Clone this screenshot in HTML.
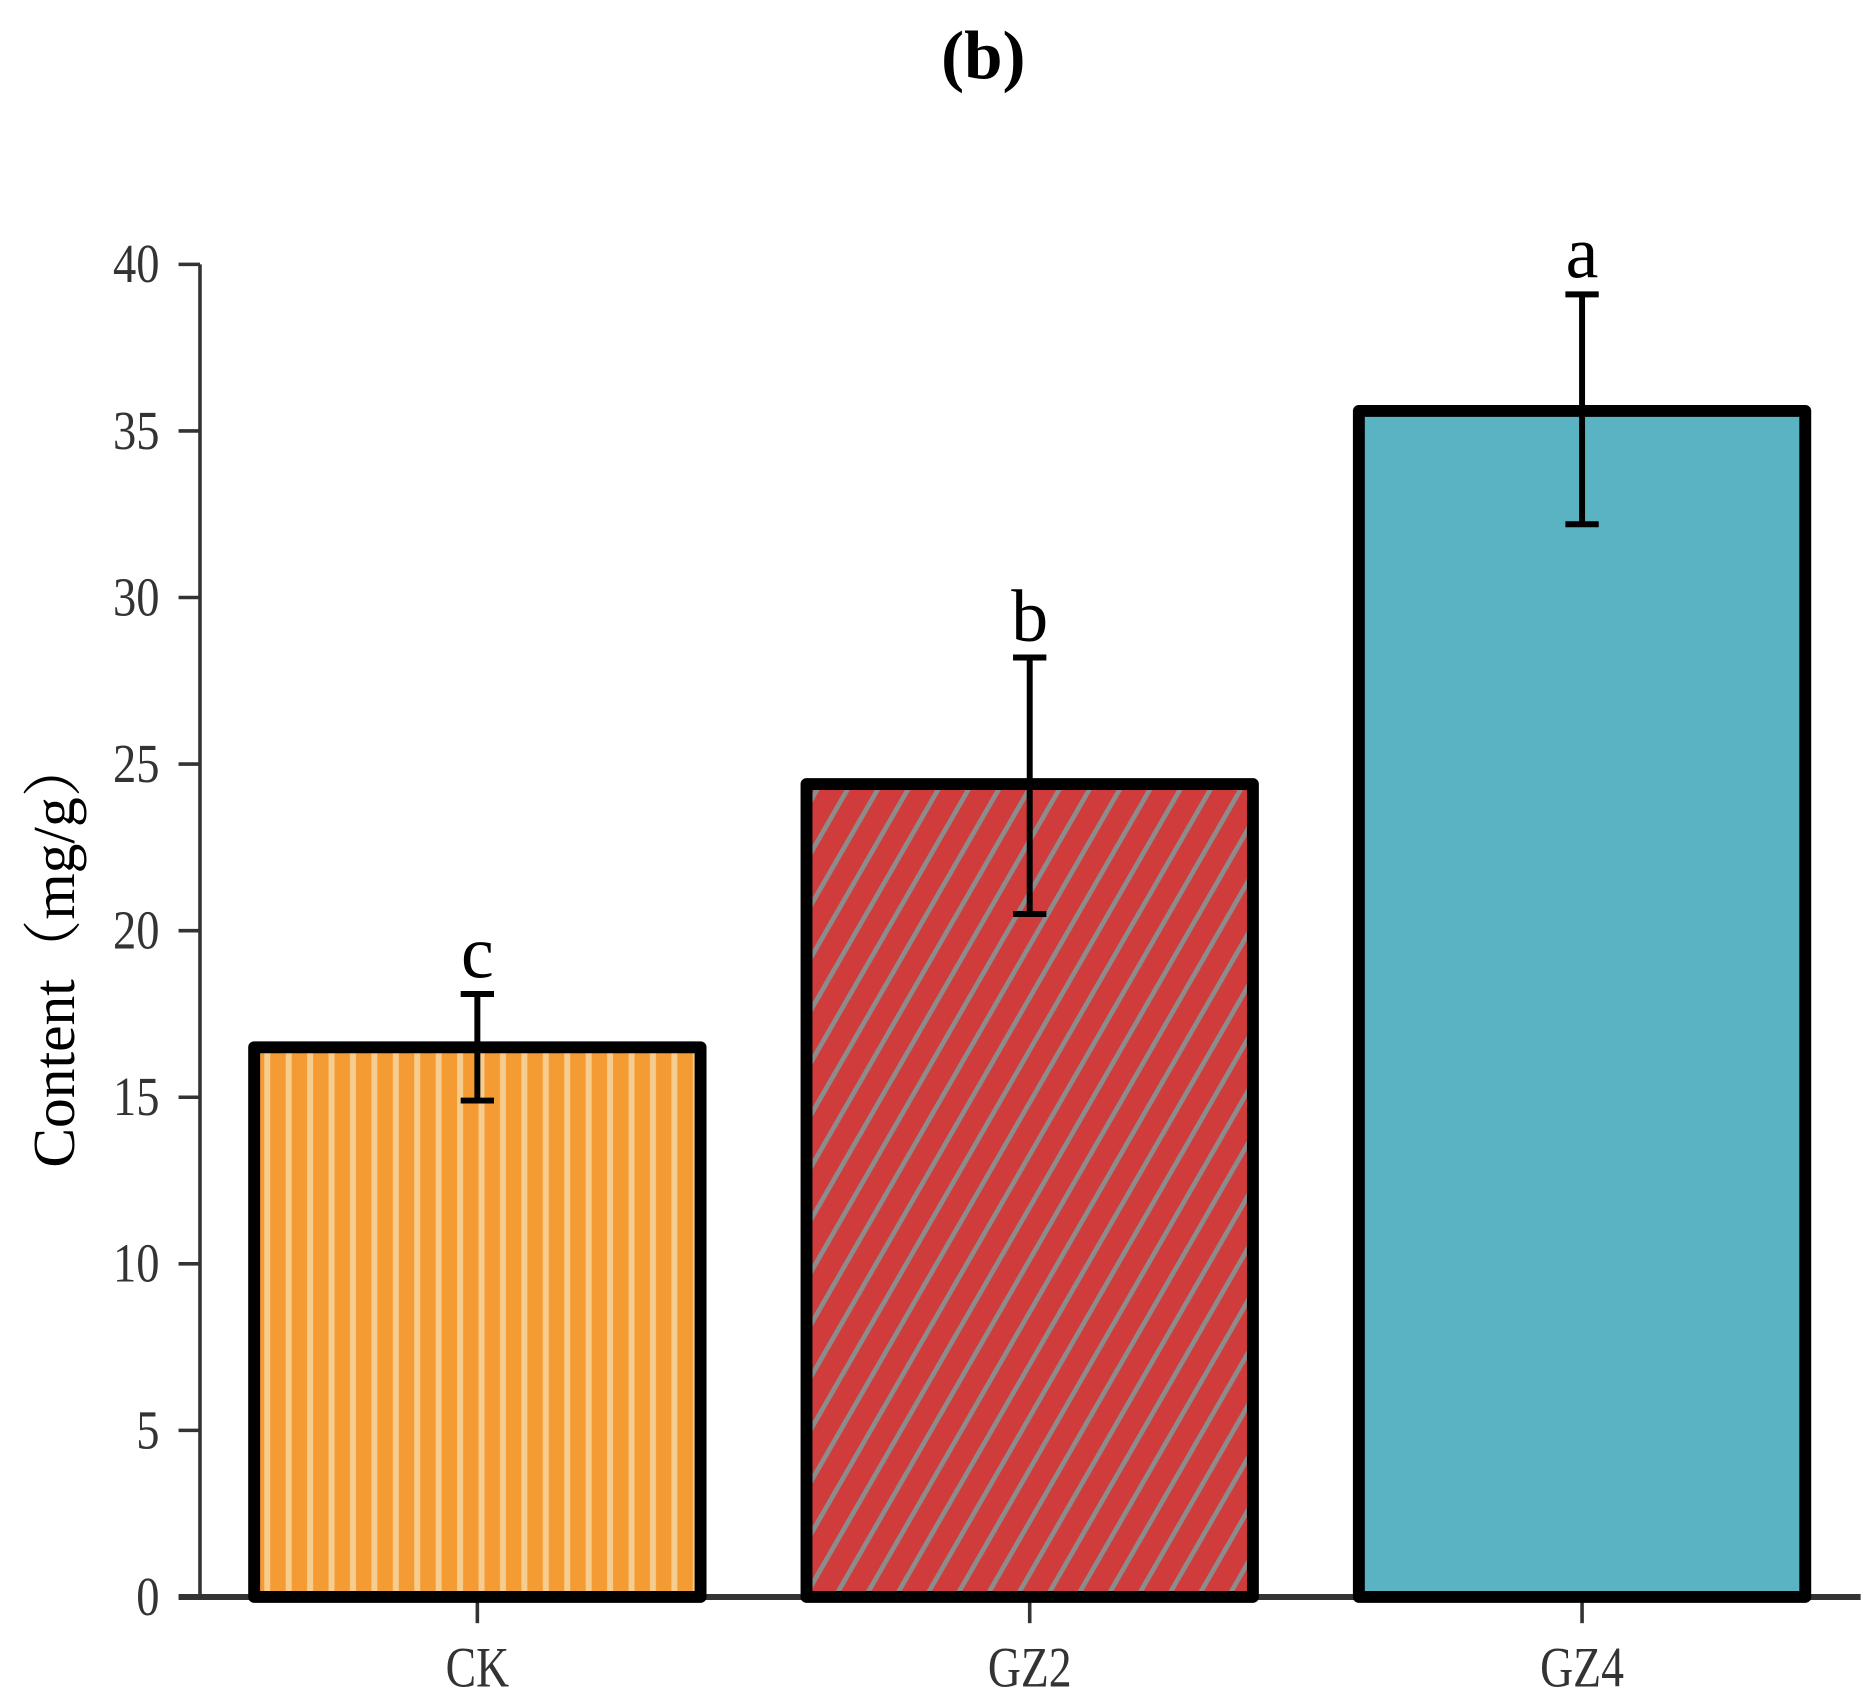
<!DOCTYPE html>
<html><head><meta charset="utf-8"><style>
html,body{margin:0;padding:0;background:#fff;}
svg{display:block;}
text{font-family:"Liberation Serif","Noto Serif CJK SC",serif;}
</style></head><body>
<svg id="chart" width="1863" height="1697" viewBox="0 0 1565 1425" preserveAspectRatio="none" xmlns="http://www.w3.org/2000/svg">
<defs>
<pattern id="pCK" patternUnits="userSpaceOnUse" width="18" height="18">
<rect width="18" height="18" fill="#f49b34"/><rect x="6" width="5" height="18" fill="#f7cd8f"/>
</pattern>
<pattern id="pGZ2" patternUnits="userSpaceOnUse" width="22" height="22" patternTransform="rotate(30)">
<rect width="22" height="22" fill="#d03b3b"/><rect x="0" width="4" height="22" fill="#8c8c8c"/>
</pattern>
</defs>
<text x="826" y="66" font-size="58" font-weight="bold" text-anchor="middle" fill="#000">(b)</text>
<g id="axes"></g>
<g id="bars"></g>
</svg>
<script>
const categories = ["CK","GZ2","GZ4"];
const values = [16.5, 24.4, 35.6];
const errLow = [14.9, 20.5, 32.2];
const errHigh = [18.1, 28.2, 39.1];
const letters = ["c","b","a"];
const yTicks = [0,5,10,15,20,25,30,35,40];
const fills = ["url(#pCK)","url(#pGZ2)","#5ab3c3"];

const NS = "http://www.w3.org/2000/svg";
const y0 = 1341, yTop = 222, yMax = 40;
function yScale(v){ return y0 - (v / yMax) * (y0 - yTop); }
const xCenters0 = 401, xStep = 464;
function xScale(i){ return xCenters0 + i * xStep; }
const barW = 375;
function mk(tag, attrs, parent){ const e = document.createElementNS(NS, tag); for (const k in attrs) e.setAttribute(k, attrs[k]); parent.appendChild(e); return e; }

const axes = document.getElementById("axes");
const bars = document.getElementById("bars");

const yAxis = mk("line",{x1:168,y1:yTop,x2:168,y2:y0,stroke:"#333","stroke-width":3},axes);


yTicks.forEach(t=>{
  const y = yScale(t);
  const tk = mk("line",{x1:150,y1:y,x2:168,y2:y,stroke:"#333","stroke-width":3},axes);
  
  
  const lb = mk("text",{x:0,y:0,"font-size":46,"text-anchor":"end",fill:"#333",transform:"translate(134,"+(y+15)+") scale(0.85,1)"},axes);
  lb.textContent = t;
  
  
});
const yl = mk("text",{x:0,y:0,"font-size":50,"text-anchor":"middle",fill:"#000",transform:"translate(62,800) rotate(-90)"},axes);
yl.textContent = "Content（mg/g）";



categories.forEach((c,i)=>{
  const cx = xScale(i);
  const top = yScale(values[i]);
  const r = mk("rect",{x:cx-barW/2,y:top,width:barW,height:y0-top,fill:fills[i],stroke:"#000","stroke-width":10,"stroke-linejoin":"round"},bars);
  
  
  const yl1 = yScale(errLow[i]), yh = yScale(errHigh[i]);
  const g = mk("g",{stroke:"#000","stroke-width":5},bars);
  
  
  mk("line",{x1:cx,y1:yl1,x2:cx,y2:yh},g);
  mk("line",{x1:cx-14,y1:yh,x2:cx+14,y2:yh},g);
  mk("line",{x1:cx-14,y1:yl1,x2:cx+14,y2:yl1},g);
  const lt = mk("text",{x:cx,y:yh-14,"font-size":62,"text-anchor":"middle",fill:"#000"},bars);
  lt.textContent = letters[i];
  
  
  const xt = mk("line",{x1:cx,y1:y0,x2:cx,y2:y0+22,stroke:"#333","stroke-width":3},axes);
  
  
  const xl = mk("text",{x:0,y:0,"font-size":48,"text-anchor":"middle",fill:"#333",transform:"translate("+cx+",1416) scale(0.8,1)"},axes);
  xl.textContent = c;
  
  
});
const xAxis = mk("line",{x1:150,y1:y0,x2:1563,y2:y0,stroke:"#333","stroke-width":5},axes);


</script>
</body></html>
